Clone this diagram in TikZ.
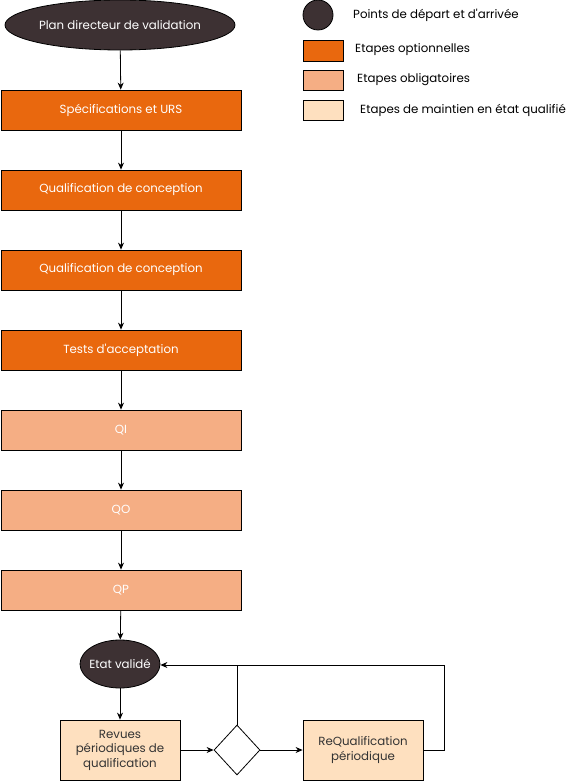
\documentclass[tikz,border=0pt]{standalone}
\usepackage{fontspec}
\setmainfont{Poppins}
\usetikzlibrary{shapes.geometric,arrows.meta}
\definecolor{darkc}{HTML}{3D3133}
\definecolor{orangec}{HTML}{E9680E}
\definecolor{salmonc}{HTML}{F5AE84}
\definecolor{peachc}{HTML}{FEE0BF}
\definecolor{txtc}{HTML}{333333}
\tikzset{
  every node/.style={font=\fontsize{11.8}{14.5}\selectfont},
  startend/.style={ellipse, draw=black, line width=0.8pt, fill=darkc, text=white, inner sep=0pt},
  optbox/.style={rectangle, draw=black, line width=0.8pt, fill=orangec, text=white, minimum width=240pt, minimum height=40pt, inner sep=0pt},
  oblbox/.style={rectangle, draw=black, line width=0.8pt, fill=salmonc, text=white, minimum width=240pt, minimum height=40pt, inner sep=0pt},
  mntbox/.style={rectangle, draw=black, line width=0.8pt, fill=peachc, text=txtc, minimum width=120pt, minimum height=60pt, inner sep=0pt, align=center},
  decision/.style={diamond, draw=black, line width=0.8pt, fill=white, minimum width=46pt, minimum height=50pt, inner sep=0pt},
  legtxt/.style={anchor=west, text=black, inner sep=0pt},
  arr/.style={-{Stealth[length=7pt,width=6pt]}, line width=0.8pt},
  ln/.style={line width=0.8pt}
}
\begin{document}
\begin{tikzpicture}[x=1pt,y=-1pt]
\useasboundingbox (0,0) rectangle (578,781);
% main flow
\node[startend, minimum width=230pt, minimum height=50pt] (start) at (120,25) {Plan directeur de validation};
\node[optbox] (spec) at (121,110) {Spécifications et URS};
\node[optbox] (qc1) at (121,190) {Qualification de conception};
\node[optbox] (qc2) at (121,270) {Qualification de conception};
\node[optbox] (tests) at (121,350) {Tests d\textquotesingle acceptation};
\node[oblbox] (qi) at (121,430) {QI};
\node[oblbox] (qo) at (121,510) {QO};
\node[oblbox] (qp) at (121,590) {QP};
\node[startend, minimum width=80pt, minimum height=48pt, inner xsep=-7pt] (etat) at (120,664) {Etat validé};
\node[mntbox] (revues) at (120,750) {Revues\\périodiques de\\qualification};
\node[decision] (dec) at (237,750) {};
\node[mntbox] (requal) at (363,750) {ReQualification\\périodique};
\coordinate (loopR) at (444,665);
\coordinate (loopD) at (237,665);
\draw[arr] (start) -- (spec);
\draw[arr] (spec) -- (qc1);
\draw[arr] (qc1) -- (qc2);
\draw[arr] (qc2) -- (tests);
\draw[arr] (tests) -- (qi);
\draw[arr] (qi) -- (qo);
\draw[arr] (qo) -- (qp);
\draw[arr] (qp) -- (etat);
\draw[arr] (etat) -- (revues);
\draw[arr] (revues) -- (dec);
\draw[arr] (dec) -- (requal);
\draw[arr] (requal.east) -| (loopR) -- (etat.east |- loopR);
\draw[ln] (dec.north) -- (loopD);
% legend
\node[circle, draw=black, line width=0.8pt, fill=darkc, minimum size=30pt, inner sep=0pt] (lc) at (318,15) {};
\node[legtxt] (lt1) at (353,15) {Points de départ et d\textquotesingle arrivée};
\node[rectangle, draw=black, line width=0.8pt, fill=orangec, minimum width=40pt, minimum height=21pt, inner sep=0pt] (lr1) at (323,50.5) {};
\node[legtxt] (lt2) at (355,50) {Etapes optionnelles};
\node[rectangle, draw=black, line width=0.8pt, fill=salmonc, minimum width=40pt, minimum height=20pt, inner sep=0pt] (lr2) at (323,80) {};
\node[legtxt] (lt3) at (357,80) {Etapes obligatoires};
\node[rectangle, draw=black, line width=0.8pt, fill=peachc, minimum width=40pt, minimum height=20pt, inner sep=0pt] (lr3) at (323,110) {};
\node[legtxt] (lt4) at (360,110) {Etapes de maintien en état qualifié};
\end{tikzpicture}
\end{document}
